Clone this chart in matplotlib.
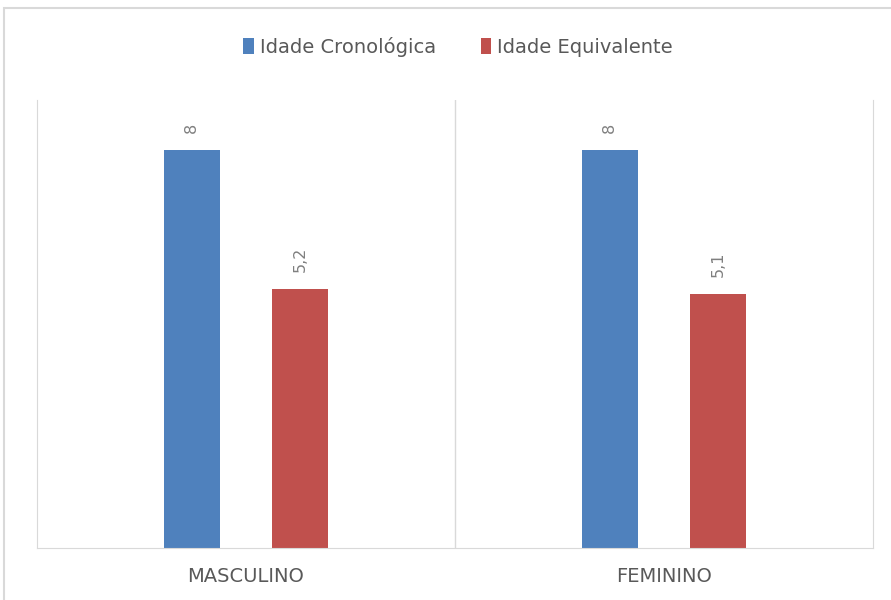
import matplotlib.pyplot as plt
from matplotlib.patches import Rectangle

categories = ['MASCULINO', 'FEMININO']
idade_cronologica = [8, 8]
idade_equivalente = [5.2, 5.1]
labels_cron = ['8', '8']
labels_equiv = ['5,2', '5,1']

plt.rcParams['font.family'] = ['DejaVu Sans']

fig = plt.figure(figsize=(8.91, 6), dpi=100)
ax = fig.add_axes([37 / 891, 52 / 600, 836 / 891, 448 / 600])

# chart frame (only top/left edges visible in the picture)
fig.patches.append(Rectangle((4 / 891, -0.2), 1.2, 1.2 - 8 / 600, transform=fig.transFigure,
                             fill=False, edgecolor='#d9d9d9', linewidth=1.5))

x = list(range(len(categories)))
w = 0.134
off = 0.13
b1 = ax.bar([i - off for i in x], idade_cronologica, w, color='#4F81BD', label='Idade Cronológica')
b2 = ax.bar([i + off for i in x], idade_equivalente, w, color='#C0504D', label='Idade Equivalente')

for bars, labs in [(b1, labels_cron), (b2, labels_equiv)]:
    for bar, lab in zip(bars, labs):
        ax.annotate(lab, (bar.get_x() + bar.get_width() / 2, bar.get_height()),
                    xytext=(0, 12), textcoords='offset points', rotation=90,
                    ha='center', va='bottom', color='#7f7f7f', fontsize=11.5)

ax.set_xlim(-0.5, 1.5)
ax.set_ylim(0, 9)
ax.axvline(0.5, color='#d9d9d9', linewidth=1)
ax.set_yticks([])
ax.set_xticks(x)
ax.set_xticklabels(categories, color='#595959', fontsize=14)
ax.tick_params(axis='x', length=0, pad=14)
ax.spines['top'].set_visible(False)
for s in ['left', 'right', 'bottom']:
    ax.spines[s].set_color('#d9d9d9')

fig.legend(loc='center', bbox_to_anchor=(458 / 891, 1 - 47 / 600), ncol=2, frameon=False,
           fontsize=14, handlelength=0.55, handleheight=0.9, handletextpad=0.3,
           columnspacing=2.3, labelcolor='#595959')

plt.savefig('out.png', dpi=100)
